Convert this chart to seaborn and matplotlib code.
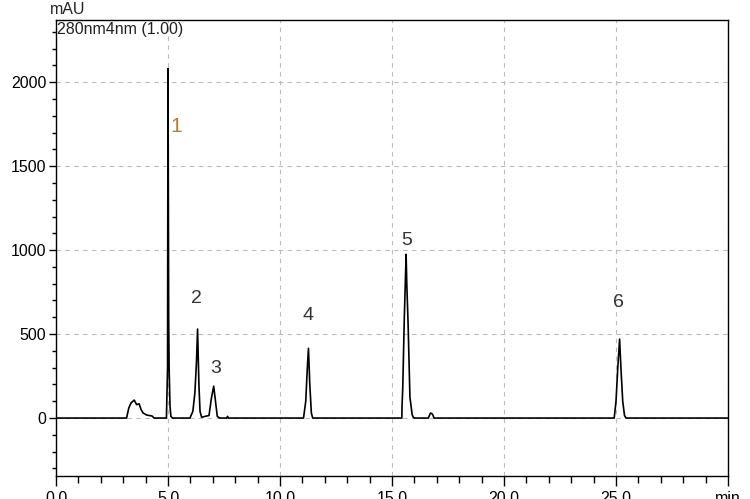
import matplotlib
matplotlib.use("Agg")
import matplotlib.pyplot as plt
import seaborn as sns
import pandas as pd
from matplotlib.ticker import MultipleLocator, FixedLocator

# Chromatogram trace (time in min, signal in mAU)
time_min = [0.0, 3.15, 3.25, 3.35, 3.49, 3.6, 3.71, 3.8, 3.89, 4.05, 4.29, 4.38,
            4.93, 4.98, 5.00, 5.03, 5.05, 5.09, 5.13, 5.2,
            5.98, 6.11, 6.2, 6.27, 6.32, 6.38, 6.43, 6.5, 6.72,
            6.83, 6.94, 7.04, 7.12, 7.2, 7.3,
            7.62, 7.66, 7.7,
            11.05, 11.15, 11.22, 11.27, 11.33, 11.40, 11.46,
            15.40, 15.44, 15.445, 15.48, 15.55, 15.63, 15.66, 15.72, 15.80, 15.90, 15.95, 16.0,
            16.62, 16.72, 16.80, 16.88,
            24.92, 25.0, 25.08, 25.16, 25.22, 25.30, 25.38, 25.45,
            30.0]
signal_mau = [0, 0, 60, 90, 107, 80, 85, 50, 30, 18, 12, 0,
              0, 300, 2080, 600, 300, 70, 10, 0,
              0, 40, 150, 330, 530, 200, 40, 5, 12,
              15, 120, 190, 100, 10, 0,
              0, 10, 0,
              0, 100, 300, 415, 200, 30, 0,
              0, 0, 60, 180, 600, 975, 800, 555, 125, 20, 5, 0,
              0, 30, 25, 0,
              0, 100, 300, 470, 300, 100, 15, 0,
              0]

peak_labels = ["1", "2", "3", "4", "5", "6"]
peak_label_x = [5.36, 6.25, 7.14, 11.24, 15.64, 25.13]
peak_label_y = [1738, 714, 298, 613, 1060, 690]
peak_label_colors = ["#c07a20", "#333333", "#333333", "#333333", "#333333", "#333333"]

x_major = [0, 5, 10, 15, 20, 25, 30]
x_labels = ["0.0", "5.0", "10.0", "15.0", "20.0", "25.0", "min"]
y_major = [0, 500, 1000, 1500, 2000]

sns.set_style("white")
plt.rcParams['font.family'] = ['Liberation Sans', 'DejaVu Sans']

fig = plt.figure(figsize=(7.5, 4.99), dpi=100)
ax = fig.add_axes([56/750, 1 - 476/499, (728-56)/750, (476-20)/499])

df = pd.DataFrame({"time": time_min, "signal": signal_mau})
sns.lineplot(data=df, x="time", y="signal", ax=ax, color="black", linewidth=1.2,
             estimator=None, sort=False)

ax.set_xlim(0, 30)
ax.set_ylim(-345, 2370)
ax.xaxis.set_major_locator(FixedLocator(x_major))
ax.set_xticklabels(x_labels)
ax.xaxis.set_minor_locator(MultipleLocator(1))
ax.yaxis.set_major_locator(FixedLocator(y_major))
ax.yaxis.set_minor_locator(MultipleLocator(100))
ax.set_xlabel("")
ax.set_ylabel("")

ax.grid(True, which="major", color="#bbbbbb", linestyle=(0, (4, 4)), linewidth=0.8)
ax.set_axisbelow(True)
for sp in ax.spines.values():
    sp.set_color("black")
    sp.set_linewidth(1.0)
    sp.set_visible(True)

ax.tick_params(axis="x", which="major", direction="out", length=7, width=1, pad=4,
               labelsize=11.5, colors="black")
ax.tick_params(axis="x", which="minor", direction="out", length=5, width=1, colors="black")
ax.tick_params(axis="y", which="major", direction="out", length=5, width=1, pad=2,
               labelsize=11.5, colors="black")
ax.tick_params(axis="y", which="minor", direction="out", length=3, width=1, colors="black")
ax.tick_params(bottom=True, left=True, which="both")

for lab, xv, yv, c in zip(peak_labels, peak_label_x, peak_label_y, peak_label_colors):
    ax.text(xv, yv, lab, color=c, fontsize=14 if lab != "1" else 15,
            ha="center", va="center")

ax.text(0.002, 0.995, "280nm4nm (1.00)", transform=ax.transAxes, ha="left", va="top",
        fontsize=11.5, color="#222222")
fig.text(50/750, 1 - 2/499, "mAU", ha="left", va="top", fontsize=11.5, color="#222222")

fig.savefig("out.png", dpi=100)
